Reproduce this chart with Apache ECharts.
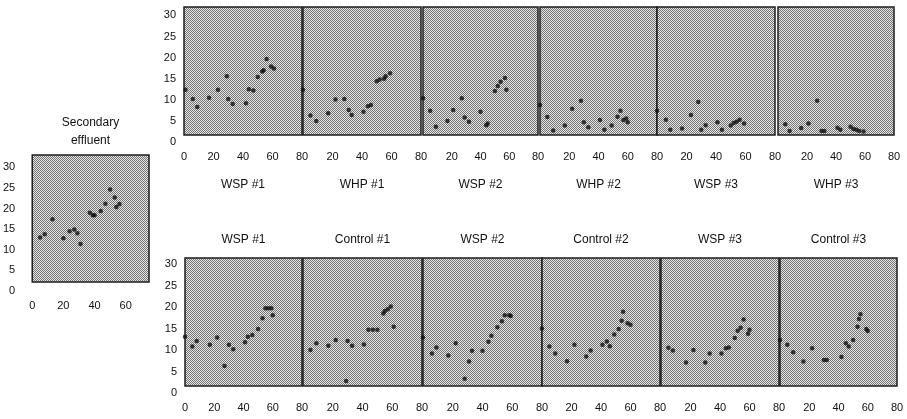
<!DOCTYPE html>
<html>
<head>
<meta charset="utf-8">
<script src="https://cdn.jsdelivr.net/npm/echarts@6/dist/echarts.min.js"></script>
<style>
  html, body { margin: 0; padding: 0; background: #fff; }
  #chart { width: 907px; height: 419px; }
</style>
</head>
<body>
<div id="chart"></div>
<script>
// [day, value] pairs
const secondaryEffluent = [[5,13],[8,13.8],[13,17.4],[20,12.8],[24,14.5],[27,14.9],[29,14],[31,11.4],[37,19],[39,18.4],[40,18.4],[44,19.4],[47,21.2],[50,24.6],[53,22.7],[54,20.4],[56,21.1]]

// top row
const wsp1Top = [[1,12.4],[6,10.2],[9,8.3],[17,10.5],[23,12.4],[29,15.6],[30,10.2],[33,9.0],[42,9.2],[44,12.5],[47,12.2],[50,15.4],[53,16.7],[54,17],[56,19.7],[59,17.9],[61,17.4]]
const whp1 = [[0,12.4],[5,6.3],[9,5.0],[17,6.8],[22,10.1],[28,10.2],[31,7.6],[33,6.4],[41,7.2],[44,8.5],[46,8.8],[50,14.4],[52,14.8],[55,15],[56,15.6],[59,16.3]]
const wsp2Top = [[0,10.4],[5,7.4],[9,3.6],[17,5.0],[21,7.6],[27,10.4],[29,5.8],[32,4.8],[40,7.2],[44,4.0],[45,4.4],[50,12.1],[52,13.3],[54,14.3],[57,15.2],[58,12.4]]
const whp2 = [[0,8.8],[5,5.9],[9,2.7],[17,3.9],[22,7.9],[28,9.8],[30,4.7],[33,3.5],[41,5.2],[44,2.9],[49,3.9],[53,6.0],[55,7.4],[57,5.2],[59,5.6],[60,4.7]]
const wsp3Top = [[0,7.4],[6,5.3],[9,2.9],[17,3.2],[23,6.4],[28,9.5],[30,2.9],[33,4.0],[41,4.7],[44,2.9],[50,3.9],[52,4.5],[54,4.8],[56,5.3],[59,4.4]]
const whp3 = [[5,4.2],[8,2.6],[16,3.3],[21,4.4],[27,9.8],[30,2.6],[32,2.6],[41,3.4],[43,2.9],[50,3.6],[52,3.1],[54,2.9],[56,2.6],[59,2.5]]

// bottom row
const wsp1Bottom = [[0,13.1],[5,10.8],[8,12.1],[17,11.2],[22,12.9],[27,6.3],[30,11.2],[33,10.2],[41,11.8],[43,13.1],[46,13.5],[50,14.9],[53,17.4],[55,19.7],[57,19.7],[59,19.7],[60,18.1]]
const control1 = [[5,10],[9,11.6],[17,11],[22,12.3],[29,2.8],[30,12.1],[33,11],[41,11.3],[44,14.7],[47,14.7],[50,14.7],[54,18.5],[55,19.1],[57,19.5],[59,20.1],[61,15.4]]
const wsp2Bottom = [[0,12.9],[6,9.2],[9,10.6],[17,8.7],[22,11.6],[28,3.3],[31,7.3],[33,9.8],[40,9.8],[44,11.9],[46,13.3],[50,15.3],[53,16.7],[55,18.1],[58,18.1],[59,17.9]]
const control2 = [[0,15],[5,10.8],[9,9.2],[17,7.4],[22,11.2],[30,8.5],[33,9.9],[41,11.2],[44,12],[46,10.9],[49,13.6],[52,14.9],[54,16.8],[55,18.9],[58,16.2],[60,15.9]]
const wsp3Bottom = [[5,10.5],[8,9.9],[17,7.1],[22,10],[30,7.1],[33,9.2],[41,9.2],[44,10.4],[46,10.6],[50,12.8],[52,14.5],[54,15.2],[56,17.1],[59,13.8],[60,14.7]]
const control3 = [[0,12.3],[5,11.2],[9,9.5],[16,7.3],[22,10.4],[30,7.7],[32,7.7],[42,8.4],[45,11.6],[47,10.8],[50,12.3],[53,15.4],[54,17.2],[55,18.3],[59,14.9],[60,14.4]]

const xTickLabels = ['0', '20', '40', '60', '80']
const yTickLabels = ['0', '5', '10', '15', '20', '25', '30']
const topTitles = ['WSP #1', 'WHP #1', 'WSP #2', 'WHP #2', 'WSP #3', 'WHP #3']
const bottomTitles = ['WSP #1', 'Control #1', 'WSP #2', 'Control #2', 'WSP #3', 'Control #3']
const topSeries = [wsp1Top, whp1, wsp2Top, whp2, wsp3Top, whp3]
const bottomSeries = [wsp1Bottom, control1, wsp2Bottom, control2, wsp3Bottom, control3]

// panel boxes [left, width] in px
const topBoxes = [[184, 118], [303, 118], [423, 115], [540, 117], [657, 118], [778, 116]]
const bottomBoxes = [[185, 117], [303, 119], [423, 119], [542, 118], [661, 118], [780, 117]]

const font = "'Liberation Sans', Arial, sans-serif"

// halftone stipple like the scan
const makeStipple = () => {
  const c = document.createElement('canvas')
  c.width = 2
  c.height = 2
  const ctx = c.getContext('2d')
  ctx.fillStyle = '#e6e6e6'
  ctx.fillRect(0, 0, 2, 2)
  ctx.fillStyle = '#747474'
  ctx.fillRect(0, 0, 1, 1)
  ctx.fillRect(1, 1, 1, 1)
  return { image: c, repeat: 'repeat' }
}
const stipple = makeStipple()

const panels = []
panels.push({ data: secondaryEffluent, left: 32, width: 117, top: 155, height: 136, xMax: 75, yMax: 33, boxBottom: 2.2,
  title: 'Secondary\neffluent', titleTop: 114, showY: true, showMinX: true, yMargin: 17 })
topSeries.forEach((d, i) => {
  panels.push({ data: d, left: topBoxes[i][0], width: topBoxes[i][1], top: 7, height: 135, xMax: 80, yMax: 32, boxBottom: 1.65,
    title: topTitles[i], titleTop: 176, showY: i === 0, showMinX: i === 0, yMargin: 8 })
})
bottomSeries.forEach((d, i) => {
  panels.push({ data: d, left: bottomBoxes[i][0], width: bottomBoxes[i][1], top: 258, height: 135, xMax: 80, yMax: 31.4, boxBottom: 1.65,
    title: bottomTitles[i], titleTop: 231, showY: i === 0, showMinX: i === 0, yMargin: 8 })
})

const chart = echarts.init(document.getElementById('chart'))

const option = {
  animation: false,
  backgroundColor: '#fff',
  title: panels.map(p => ({
    text: p.title,
    left: p.left + p.width / 2,
    top: p.titleTop,
    textAlign: 'center',
    padding: 0,
    textStyle: { fontFamily: font, fontSize: 12, fontWeight: 'normal', color: '#111', lineHeight: 18 }
  })),
  grid: panels.map(p => ({ left: p.left, width: p.width, top: p.top, height: p.height })),
  xAxis: panels.map((p, i) => ({
    type: 'value',
    gridIndex: i,
    min: 0,
    max: p.xMax,
    interval: 20,
    axisLine: { show: false },
    axisTick: { show: false },
    splitLine: { show: false },
    axisLabel: {
      margin: 9,
      showMinLabel: p.showMinX,
      fontFamily: font,
      fontSize: 11,
      color: '#111',
      formatter: v => xTickLabels.includes(String(v)) ? String(v) : ''
    }
  })),
  yAxis: panels.map((p, i) => ({
    type: 'value',
    gridIndex: i,
    min: 0,
    max: p.yMax,
    interval: 5,
    axisLine: { show: false },
    axisTick: { show: false },
    splitLine: { show: false },
    axisLabel: {
      show: p.showY,
      margin: p.yMargin,
      fontFamily: font,
      fontSize: 11,
      color: '#111',
      formatter: v => yTickLabels.includes(String(v)) ? String(v) : ''
    }
  })),
  series: panels.map((p, i) => ({
    type: 'scatter',
    xAxisIndex: i,
    yAxisIndex: i,
    data: p.data,
    symbol: 'circle',
    symbolSize: 4.5,
    z: 3,
    itemStyle: { color: '#101010' },
    markArea: {
      silent: true,
      z: 1,
      label: { show: false },
      itemStyle: { color: stipple, opacity: 1, borderColor: '#1e1e1e', borderWidth: 1.5 },
      data: [[{ xAxis: 0, yAxis: p.boxBottom }, { xAxis: p.xMax, yAxis: p.yMax }]]
    }
  }))
}

chart.setOption(option)
</script>
</body>
</html>
